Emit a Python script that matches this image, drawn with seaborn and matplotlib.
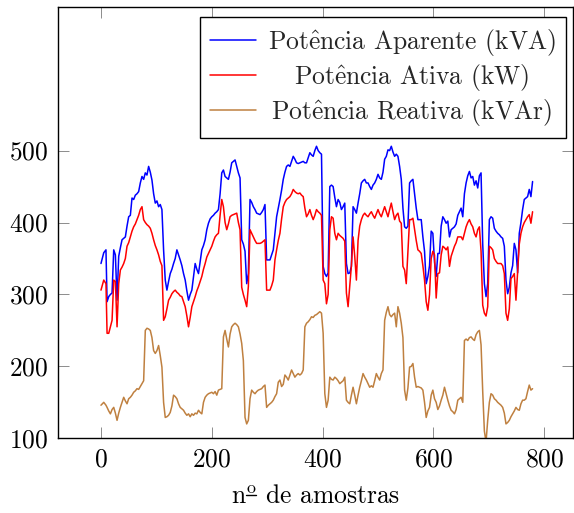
import matplotlib
matplotlib.use("Agg")
import matplotlib.pyplot as plt
import pandas as pd
import seaborn as sns
from matplotlib.lines import Line2D

# sample numbers (denser at the very start)
amostras = [0, 5, 9] + list(range(11, 780, 3))

aparente = [
    343, 358, 362, 290, 297, 300, 302, 362, 355, 292,
    353, 365, 376, 378, 380, 395, 408, 410, 434, 432,
    438, 440, 443, 455, 464, 460, 469, 466, 478, 470,
    459, 440, 427, 430, 422, 425, 418, 362, 320, 306,
    318, 329, 335, 343, 350, 362, 355, 348, 340, 329,
    320, 305, 292, 300, 306, 325, 343, 335, 329, 345,
    362, 368, 376, 390, 399, 405, 408,
    410, 413, 415, 418, 440, 469, 473, 464, 462, 460,
    470, 483, 485, 487, 478, 469, 462, 376, 370, 360,
    315, 329, 432, 428, 422, 418, 413, 412, 411, 414,
    418, 425, 348, 348, 348, 355, 362, 385, 408, 420,
    432, 445, 460, 470, 478, 480, 478, 485, 492, 488,
    483, 482, 483, 484, 485, 483, 483, 490, 497, 494,
    492, 500, 506, 500, 497, 495, 339,
    329, 325, 330, 450, 452, 450, 435, 422, 432, 428,
    418, 422, 427, 343, 329, 330, 339, 422, 418, 413,
    427, 440, 455, 458, 460, 455, 455, 450, 446, 452,
    455, 460, 467, 462, 460, 470, 488, 492, 501, 500,
    506, 498, 492, 495, 492, 478, 460, 420, 394, 392,
    395, 455, 458, 460, 440, 420, 404, 404, 404, 380,
    360, 315, 325, 340, 388, 385,
    345, 325, 357, 357, 395, 408, 404, 399, 402, 380,
    390, 392, 394, 398, 410, 415, 420, 408, 440, 455,
    465, 471, 462, 464, 452, 458, 448, 465, 469, 370,
    315, 297, 315, 404, 408, 406, 392, 388, 385, 383,
    380, 378, 367, 320, 301, 310, 330, 340, 371, 362,
    330, 385, 400, 418, 432, 434, 436, 446, 436, 457,
]

ativa = [
    306, 320, 315, 246, 246, 255, 264, 320, 318, 255,
    315, 334, 338, 343, 350, 367, 372, 380, 388, 394,
    398, 404, 410, 418, 422, 404, 400, 397, 395, 392,
    385, 376, 368, 362, 355, 346, 340, 264, 269, 280,
    292, 296, 301, 304, 306, 303, 301, 298, 297, 290,
    283, 270, 255, 268, 283, 290, 297, 305, 311, 318,
    325, 335, 343, 352, 357, 362, 367,
    374, 380, 383, 385, 410, 432, 422, 400, 390, 398,
    408, 410, 411, 412, 413, 400, 390, 310, 300, 292,
    283, 311, 390, 385, 380, 375, 371, 371, 371, 372,
    374, 376, 306, 306, 306, 312, 320, 348, 362, 375,
    385, 405, 422, 428, 432, 434, 436, 440, 446, 443,
    441, 440, 441, 438, 436, 420, 408, 412, 418, 410,
    404, 410, 418, 415, 413, 410, 320,
    315, 287, 300, 390, 408, 406, 385, 376, 385, 382,
    380, 378, 374, 302, 283, 311, 340, 380, 353, 320,
    375, 395, 404, 410, 413, 410, 408, 412, 415, 410,
    406, 412, 418, 412, 408, 415, 422, 415, 408, 418,
    427, 415, 404, 410, 413, 402, 399, 339, 334, 315,
    360, 404, 404, 406, 390, 375, 362, 360, 357, 340,
    320, 290, 278, 300, 350, 360,
    355, 295, 329, 330, 355, 367, 365, 362, 366, 339,
    353, 360, 367, 372, 380, 380, 380, 376, 385, 394,
    400, 404, 398, 394, 385, 380, 390, 394, 360, 285,
    274, 270, 283, 367, 365, 362, 350, 346, 343, 343,
    343, 340, 329, 274, 264, 280, 322, 325, 329, 292,
    330, 370, 385, 394, 400, 404, 408, 411, 399, 415,
]

reativa = [
    146, 150, 146, 143, 138, 134, 140, 143, 135, 125,
    135, 143, 150, 157, 152, 148, 155, 157, 160, 164,
    166, 169, 168, 172, 176, 180, 250, 253, 252, 250,
    240, 222, 218, 222, 229, 215, 199, 150, 129, 130,
    132, 136, 145, 160, 158, 155, 148, 143, 141, 139,
    135, 132, 134, 130, 134, 132, 135, 134, 139, 136,
    134, 150, 157, 160, 162, 163, 164,
    162, 165, 160, 167, 168, 169, 241, 250, 238, 227,
    245, 255, 258, 260, 258, 255, 245, 232, 208, 129,
    120, 125, 155, 167, 164, 162, 165, 167, 168, 169,
    172, 174, 143, 146, 148, 150, 153, 158, 162, 178,
    181, 172, 175, 188, 185, 181, 188, 195, 190, 185,
    188, 190, 188, 190, 195, 255, 260, 262, 265, 269,
    268, 271, 272, 274, 276, 274, 246,
    162, 143, 153, 185, 182, 181, 185, 183, 180, 176,
    178, 180, 185, 153, 150, 148, 160, 171, 160, 148,
    160, 171, 180, 190, 185, 181, 176, 171, 173, 171,
    180, 190, 185, 181, 190, 195, 264, 275, 283, 272,
    269, 272, 274, 255, 283, 274, 260, 240, 167, 153,
    170, 199, 200, 204, 185, 171, 172, 171, 170, 167,
    150, 129, 138, 143, 160, 167,
    155, 150, 140, 145, 153, 160, 171, 162, 153, 145,
    139, 137, 134, 140, 153, 155, 157, 150, 236, 238,
    236, 240, 241, 238, 236, 244, 248, 250, 230, 165,
    110, 95, 125, 150, 162, 160, 155, 153, 150, 148,
    146, 143, 135, 120, 122, 125, 130, 134, 138, 143,
    140, 139, 148, 153, 153, 155, 165, 174, 167, 169,
]

# "ê" through mathtext so it stays in Computer Modern
rotulos = [
    r"Pot$\hat{\mathrm{e}}$ncia Aparente (kVA)",
    r"Pot$\hat{\mathrm{e}}$ncia Ativa (kW)",
    r"Pot$\hat{\mathrm{e}}$ncia Reativa (kVAr)",
]
cores = ["#0000ff", "#ff0000", "#bf8040"]

FONT_SIZE = 18.4


def underline_ordinal(fig, xlab) -> None:
    # draw the bar under the superscript "o" of "nº"
    renderer = fig.canvas.get_renderer()
    bb = xlab.get_window_extent(renderer)
    prop = xlab.get_fontproperties()
    _, _, descent = renderer.get_text_width_height_descent("lp", prop, ismath=False)
    probe = fig.text(0, 0, "n", fontproperties=prop)
    w0 = probe.get_window_extent(renderer).width
    probe.set_text(r"n$^{\mathrm{o}}$")
    w1 = probe.get_window_extent(renderer).width
    probe.remove()
    baseline = bb.y0 + descent
    y = baseline + 7.7
    W, H = fig.canvas.get_width_height()
    fig.add_artist(Line2D([(bb.x0 + w0 + 0.5) / W, (bb.x0 + w1 - 0.5) / W], [y / H, y / H],
                          transform=fig.transFigure, color="black", linewidth=1.0))


def main() -> None:
    assert len(amostras) == len(aparente) == len(ativa) == len(reativa)

    sns.set_theme(style="white")
    plt.rcParams["font.family"] = ["cmr10", "DejaVu Serif"]
    plt.rcParams["mathtext.fontset"] = "cm"
    plt.rcParams["axes.formatter.use_mathtext"] = True

    df = pd.DataFrame({
        "amostra": amostras,
        rotulos[0]: aparente,
        rotulos[1]: ativa,
        rotulos[2]: reativa,
    }).melt(id_vars="amostra", var_name="serie", value_name="valor")

    fig = plt.figure(figsize=(5.74, 5.13), dpi=100)
    ax = fig.add_axes([0.1016, 0.1456, 0.8967, 0.8413])
    sns.lineplot(data=df, x="amostra", y="valor", hue="serie", hue_order=rotulos,
                 palette=cores, linewidth=1.1, ax=ax)

    ax.set_xlim(-77, 852)
    ax.set_ylim(100, 700)
    ax.set_xticks([0, 200, 400, 600, 800])
    ax.set_yticks([100, 200, 300, 400, 500])
    ax.tick_params(direction="in", length=7.9, width=0.7, color="0.55",
                   top=True, right=True, bottom=True, left=True,
                   labelsize=FONT_SIZE, labelcolor="black", pad=7)
    for spine in ax.spines.values():
        spine.set_color("black")
        spine.set_linewidth(1.0)

    xlab = ax.set_xlabel(r"n$^{\mathrm{o}}$ de amostras", fontsize=FONT_SIZE,
                         color="black", labelpad=9)
    ax.set_ylabel("")

    handles, labels = ax.get_legend_handles_labels()
    leg = ax.legend(handles, labels, loc="upper right", bbox_to_anchor=(0.9864, 0.9768),
                    borderaxespad=0, fontsize=FONT_SIZE, frameon=True, fancybox=False,
                    edgecolor="black", framealpha=1, handlelength=1.8,
                    handletextpad=0.45, borderpad=0.4, labelspacing=0.15)
    leg.get_frame().set_linewidth(1.0)

    # pgfplots centres the legend texts in their column
    fig.canvas.draw()
    widths = [t.get_window_extent().width for t in leg.get_texts()]
    widest = max(widths)
    for t, w in zip(leg.get_texts(), widths):
        t.set_x((widest - w) / 2)

    underline_ordinal(fig, xlab)

    fig.savefig("out.png", dpi=100)
    plt.close(fig)


if __name__ == "__main__":
    main()
